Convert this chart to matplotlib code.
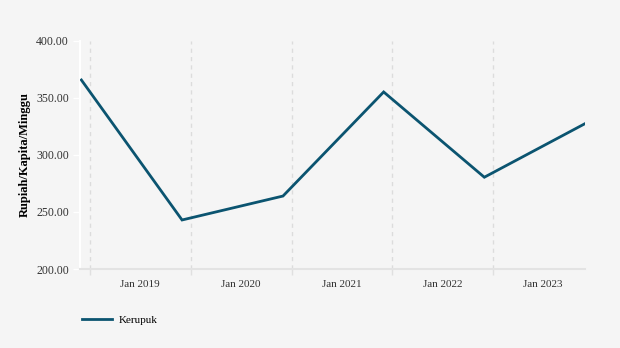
import pandas as pd
import matplotlib.pyplot as plt

# Data
dates = ['2018-12-01', '2019-12-01', '2020-12-01', '2021-12-01', '2022-12-01', '2023-12-01']
values = [365.8, 243.0, 264.0, 355.3, 280.5, 327.5]
tick_years = [2019, 2020, 2021, 2022, 2023]
tick_labels = ['Jan 2019', 'Jan 2020', 'Jan 2021', 'Jan 2022', 'Jan 2023']

x = pd.to_datetime(dates)
bg = '#f5f5f5'
plt.rcParams['font.family'] = ['Liberation Serif', 'DejaVu Serif']

fig = plt.figure(figsize=(6.2, 3.48), dpi=100, facecolor=bg)
ax = fig.add_axes([80 / 620, 1 - 269 / 348, 505 / 620, 228 / 348], facecolor=bg)

ax.plot(x, values, color='#0b5470', lw=2.0, label='Kerupuk', zorder=3,
        solid_joinstyle='miter')

ax.set_ylim(200, 400)
ax.set_yticks([200, 250, 300, 350, 400])
ax.set_yticklabels(['%.2f' % v for v in [200, 250, 300, 350, 400]])
ax.set_xlim(pd.Timestamp('2018-11-26'), pd.Timestamp('2023-12-01'))

# grid lines at January, labels centred between them
jan = [pd.Timestamp(f'{y}-01-01') for y in tick_years]
mid = [pd.Timestamp(f'{y}-07-02') for y in tick_years]
ax.set_xticks(jan)
ax.set_xticklabels([''] * len(jan))
ax.set_xticks(mid, minor=True)
ax.set_xticklabels(tick_labels, minor=True)
ax.tick_params(axis='x', which='minor', length=0, pad=8, labelsize=8, labelcolor='#333333')
ax.tick_params(axis='x', which='major', length=4, color='#e0e0e0', width=1)
ax.tick_params(axis='y', length=5, color='white', width=1, labelsize=8.5,
               labelcolor='#333333', pad=3)
ax.grid(axis='x', which='major', color='#dcdcdc', linestyle=(0, (3, 3)), lw=1)

for s in ['top', 'right']:
    ax.spines[s].set_visible(False)
ax.spines['left'].set_color('white')
ax.spines['left'].set_linewidth(1.5)
ax.spines['bottom'].set_color('#e3e3e3')
ax.spines['bottom'].set_linewidth(1.5)

ax.set_ylabel('Rupiah/Kapita/Minggu', fontsize=9, fontweight='bold', labelpad=4)

leg = ax.legend(loc='upper left', bbox_to_anchor=(-0.015, -0.16), frameon=False,
                fontsize=8, handlelength=2.7, handletextpad=0.6)

fig.savefig('out.png', dpi=100, facecolor=bg)
